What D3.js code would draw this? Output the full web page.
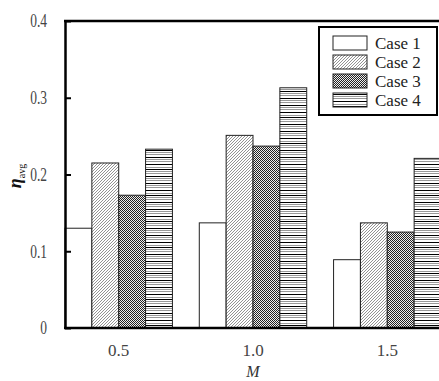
<!DOCTYPE html>
<html>
<head>
<meta charset="utf-8">
<script src="https://cdn.jsdelivr.net/npm/d3@7"></script>
<style>
  body { margin: 0; background: #fff; }
  svg { display: block; font-family: "Liberation Serif", "DejaVu Serif", serif; }
</style>
</head>
<body>
<div id="chart"></div>
<script>
// data
var groups = ["0.5", "1.0", "1.5"];
var cases = ["Case 1", "Case 2", "Case 3", "Case 4"];
var case1 = [0.130, 0.137, 0.089];
var case2 = [0.215, 0.251, 0.137];
var case3 = [0.173, 0.237, 0.125];
var case4 = [0.233, 0.313, 0.221];
var yTicks = [0, 0.1, 0.2, 0.3, 0.4];

const WIDTH = 439, HEIGHT = 381;
var svg = d3.select("#chart").append("svg")
    .attr("width", WIDTH)
    .attr("height", HEIGHT);

// fill patterns
var defs = svg.append("defs");
var p2 = defs.append("pattern").attr("id", "pat2")
    .attr("patternUnits", "userSpaceOnUse").attr("width", 3).attr("height", 3);
p2.append("rect").attr("width", 3).attr("height", 3).attr("fill", "#fff");
p2.append("path").attr("d", "M-1,1 l2,-2 M0,3 l3,-3 M2,4 l2,-2")
    .attr("stroke", "#777").attr("stroke-width", 0.8);

var p3 = defs.append("pattern").attr("id", "pat3")
    .attr("patternUnits", "userSpaceOnUse").attr("width", 2).attr("height", 2);
p3.append("rect").attr("width", 2).attr("height", 2).attr("fill", "#eee");
p3.append("rect").attr("width", 1).attr("height", 1).attr("fill", "#222");
p3.append("rect").attr("x", 1).attr("y", 1).attr("width", 1).attr("height", 1).attr("fill", "#222");

var p4 = defs.append("pattern").attr("id", "pat4")
    .attr("patternUnits", "userSpaceOnUse").attr("width", 10).attr("height", 26);
p4.append("rect").attr("width", 10).attr("height", 26).attr("fill", "#fff");
var blackLines = [1.5, 8.5, 13.5, 20.5];
var grayLines = [3.5, 5.5, 11.5, 15.5, 17.5, 22.5, 24.5];
blackLines.forEach(function(y) {
    p4.append("line").attr("x1", 0).attr("x2", 10).attr("y1", y).attr("y2", y)
        .attr("stroke", "#000").attr("stroke-width", 1);
});
grayLines.forEach(function(y) {
    p4.append("line").attr("x1", 0).attr("x2", 10).attr("y1", y).attr("y2", y)
        .attr("stroke", "#999").attr("stroke-width", 1);
});

var fills = ["#fff", "url(#pat2)", "url(#pat3)", "url(#pat4)"];

// scales
var x0 = d3.scaleBand().domain(groups).range([65, 441]).paddingInner(0.2).paddingOuter(0);
var x1 = d3.scaleBand().domain(cases).range([0, x0.bandwidth()]);
var y = d3.scaleLinear().domain([0, 0.4]).range([328, 21]);

var series = [case1, case2, case3, case4];
var rows = [];
groups.forEach(function(g, i) {
    cases.forEach(function(c, j) {
        rows.push({ group: g, name: c, value: series[j][i], k: j });
    });
});

svg.append("g").selectAll("rect")
    .data(rows)
    .enter().append("rect")
    .attr("x", function(d) { return x0(d.group) + x1(d.name); })
    .attr("y", function(d) { return y(d.value); })
    .attr("width", x1.bandwidth())
    .attr("height", function(d) { return y(0) - y(d.value); })
    .attr("fill", function(d) { return fills[d.k]; })
    .attr("stroke", "#222")
    .attr("stroke-width", 1);

// frame top
svg.append("line").attr("x1", 64).attr("x2", WIDTH).attr("y1", y(0.4)).attr("y2", y(0.4))
    .attr("stroke", "#000").attr("stroke-width", 2.5);

// y axis
var yAxis = svg.append("g")
    .attr("transform", "translate(65,0)")
    .call(d3.axisLeft(y).tickValues(yTicks)
        .tickSizeInner(-6).tickSizeOuter(0).tickPadding(18)
        .tickFormat(function(d) { return d === 0 ? "0" : d3.format(".1f")(d); }));
yAxis.select(".domain").attr("stroke-width", 2.5);
yAxis.selectAll(".tick line").attr("stroke-width", 2);
yAxis.selectAll(".tick text")
    .attr("font-size", 18)
    .attr("fill", "#444")
    .attr("font-family", "Liberation Serif, serif")
    .attr("x", -18 / 0.75)
    .attr("transform", "scale(0.75,1)");

// x axis
var xAxis = svg.append("g")
    .attr("transform", "translate(0," + y(0) + ")")
    .call(d3.axisBottom(x0).tickSize(0).tickSizeOuter(0).tickPadding(16));
xAxis.select(".domain").attr("d", "M64,0H" + WIDTH).attr("stroke-width", 2.5);
xAxis.selectAll(".tick text")
    .attr("font-size", 17)
    .attr("fill", "#444")
    .attr("font-family", "Liberation Serif, serif");

// axis titles
svg.append("text")
    .attr("x", x0("1.0") + x0.bandwidth() / 2)
    .attr("y", 377)
    .attr("text-anchor", "middle")
    .attr("font-size", 16)
    .attr("font-style", "italic")
    .attr("fill", "#333")
    .text("M");

var yt = svg.append("text")
    .attr("transform", "translate(21,176) rotate(-90)")
    .attr("text-anchor", "middle")
    .attr("fill", "#111");
yt.append("tspan").attr("font-size", 18).attr("font-weight", "bold").attr("font-style", "italic").text("η");
yt.append("tspan").attr("font-size", 10).attr("dy", 4).text("avg");

// legend
var lg = svg.append("g");
lg.append("rect").attr("x", 319).attr("y", 27).attr("width", 118).attr("height", 88)
    .attr("fill", "#fff").attr("stroke", "#000").attr("stroke-width", 2);
var items = lg.selectAll("g.item").data(cases).enter().append("g")
    .attr("class", "item")
    .attr("transform", function(d, i) { return "translate(333," + (36 + i * 19) + ")"; });
items.append("rect").attr("width", 34).attr("height", 14)
    .attr("fill", function(d, i) { return fills[i]; })
    .attr("stroke", "#222").attr("stroke-width", 1);
items.append("text").attr("x", 42).attr("y", 13)
    .attr("font-size", 17).attr("fill", "#222")
    .text(function(d) { return d; });
</script>
</body>
</html>
